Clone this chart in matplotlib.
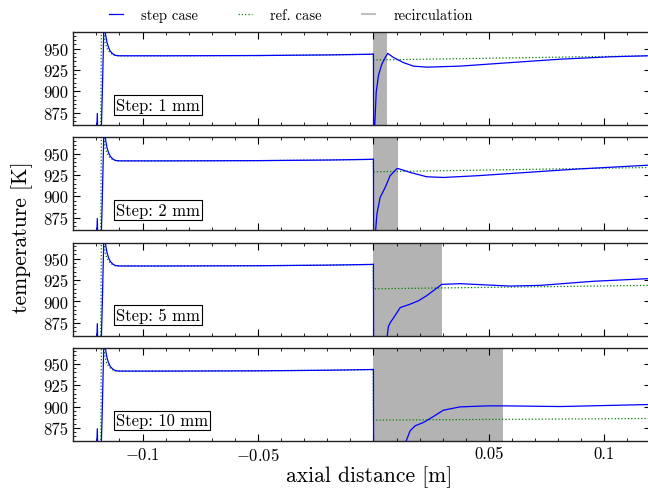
import numpy as np
import matplotlib
matplotlib.use("Agg")
import matplotlib.pyplot as plt
from matplotlib.lines import Line2D
from matplotlib.ticker import MultipleLocator, FixedLocator, FixedFormatter

plt.rcParams['font.family'] = 'serif'
plt.rcParams['font.serif'] = ['cmr10']
plt.rcParams['mathtext.fontset'] = 'cm'
plt.rcParams['axes.formatter.use_mathtext'] = True
plt.rcParams['axes.unicode_minus'] = True

# ---------------- data ----------------
step_labels = ["Step: 1 mm", "Step: 2 mm", "Step: 5 mm", "Step: 10 mm"]
recirc_len = [0.0058, 0.0106, 0.0296, 0.0563]

# upstream part (flame + plateau), identical for all panels
up_x_step = [-0.1300, -0.1200, -0.1196, -0.1193, -0.1181, -0.1178, -0.1175, -0.1172,
             -0.1169, -0.11655, -0.1164, -0.1160, -0.1154, -0.1147, -0.1140, -0.1130,
             -0.1118, -0.1100, -0.0900, -0.0500, -0.0200, -0.0010, 0.0000]
up_T_step = [800, 840, 874, 840, 845, 862, 890, 925,
             960, 1050, 975, 966, 957, 951, 947, 944,
             942, 941.5, 941.5, 941.8, 942.5, 943.3, 943.5]

up_x_ref = [-0.1300, -0.1182, -0.1180, -0.1178, -0.11765, -0.1174, -0.1168, -0.1162,
            -0.1155, -0.1147, -0.1138, -0.1126, -0.1110, -0.0900, -0.0500, -0.0200,
            -0.0010, -0.0001]
up_T_ref = [800, 830, 900, 990, 1050, 990, 970, 957,
            951, 947, 944.5, 942.5, 941.5, 941.5, 941.8, 942.5,
            943.3, 943.5]

# downstream part of step case, per panel
down_x_step = [
    [0.0001, 0.0004, 0.0012, 0.0022, 0.0036, 0.0051, 0.0062, 0.0087, 0.0130, 0.0173,
     0.0231, 0.0375, 0.0592, 0.0808, 0.1025, 0.1200],
    [0.0001, 0.0008, 0.0015, 0.0029, 0.0051, 0.0072, 0.0101, 0.0106, 0.0159, 0.0231,
     0.0303, 0.0448, 0.0664, 0.0880, 0.1200],
    [0.0001, 0.0055, 0.0065, 0.0072, 0.0087, 0.0116, 0.0159, 0.0195, 0.0231, 0.0296,
     0.0375, 0.0592, 0.0722, 0.0952, 0.1200],
    [0.0001, 0.0135, 0.0159, 0.0181, 0.0217, 0.0253, 0.0303, 0.0375, 0.0498, 0.0563,
     0.0808, 0.1200],
]
down_T_step = [
    [800, 850, 899, 919, 931.5, 939.5, 944.3, 939.5, 933.5, 929.4,
     928.2, 929.4, 933.5, 937.5, 940.3, 941.6],
    [800, 855, 879.4, 898.8, 910.5, 924.1, 932.3, 932.6, 928.0, 922.9,
     922.1, 924.1, 928.0, 931.9, 936.6],
    [800, 850, 870.8, 874.8, 880.8, 892.8, 896.8, 900.8, 906.8, 920.0,
     920.8, 918.0, 918.8, 923.6, 926.8],
    [800, 855, 871.7, 877.5, 881.4, 887.2, 895.7, 899.6, 900.8, 900.8,
     900.0, 902.4],
]

# downstream part of reference case, per panel
down_x_ref = [[0.0, 0.12], [0.0, 0.12], [0.0, 0.12], [0.0, 0.12]]
down_T_ref = [[936.6, 941.5], [928.7, 933.8], [914.8, 918.8], [884.1, 886.0]]

y_ticks = [875, 900, 925, 950]
x_ticks = [-0.1, -0.05, 0.0, 0.05, 0.1]
x_tick_labels = [r"$-0.1$", r"$-0.05$", "", "0.05", "0.1"]

# ---------------- figure ----------------
W, H = 648, 489
fig = plt.figure(figsize=(W / 100, H / 100), dpi=100)
gs = fig.add_gridspec(4, 1, left=73.3 / W, right=650.5 / W,
                      top=1 - 33.3 / H, bottom=1 - 441.7 / H, hspace=0.129)

for i in range(4):
    ax = fig.add_subplot(gs[i])
    ax.axvspan(0, recirc_len[i], color='0.7', lw=0, zorder=1)
    xs = np.concatenate([up_x_step, down_x_step[i]])
    Ts = np.concatenate([up_T_step, down_T_step[i]])
    xr = np.concatenate([up_x_ref, down_x_ref[i]])
    Tr = np.concatenate([up_T_ref, down_T_ref[i]])
    ax.plot(xr, Tr, color='green', ls=':', lw=0.9, zorder=2)
    ax.plot(xs, Ts, color='blue', ls='-', lw=0.9, zorder=3)
    ax.set_xlim(-0.13, 0.12)
    ax.set_ylim(860, 969)
    ax.xaxis.set_major_locator(FixedLocator(x_ticks))
    ax.xaxis.set_minor_locator(MultipleLocator(0.01))
    ax.yaxis.set_major_locator(FixedLocator(y_ticks))
    ax.yaxis.set_minor_locator(MultipleLocator(5))
    ax.set_yticklabels([str(v) for v in y_ticks])
    if i == 3:
        ax.xaxis.set_major_formatter(FixedFormatter(x_tick_labels))
    else:
        ax.tick_params(axis='x', labelbottom=False)
    ax.tick_params(which='both', direction='in', top=True, right=True, labelsize=12)
    ax.tick_params(which='major', length=5, width=0.8)
    ax.tick_params(which='minor', length=2.5, width=0.6)
    for s in ax.spines.values():
        s.set_linewidth(1.0)
        s.set_color('#222222')
    ax.text(0.074, 0.22, step_labels[i], transform=ax.transAxes, fontsize=12,
            ha='left', va='center', zorder=5,
            bbox=dict(boxstyle='square,pad=0.12', facecolor='white',
                      edgecolor='black', lw=0.8))

handles = [Line2D([], [], color='blue', lw=0.9),
           Line2D([], [], color='green', ls=':', lw=0.9),
           Line2D([], [], color='0.75', lw=1.5)]
fig.legend(handles, ["step case", "ref. case", "recirculation"], loc='center',
           bbox_to_anchor=(291 / W, 1 - 16 / H), ncol=3, frameon=False,
           fontsize=10.5, handlelength=0.95, handletextpad=1.24, columnspacing=2.75)

fig.text(22 / W, 1 - 237.5 / H, "temperature [K]", rotation=90, ha='center',
         va='center', fontsize=15.5)
fig.text(369 / W, 1 - 477 / H, "axial distance [m]", ha='center', va='center',
         fontsize=15.5)

fig.savefig("out.png", dpi=100)
